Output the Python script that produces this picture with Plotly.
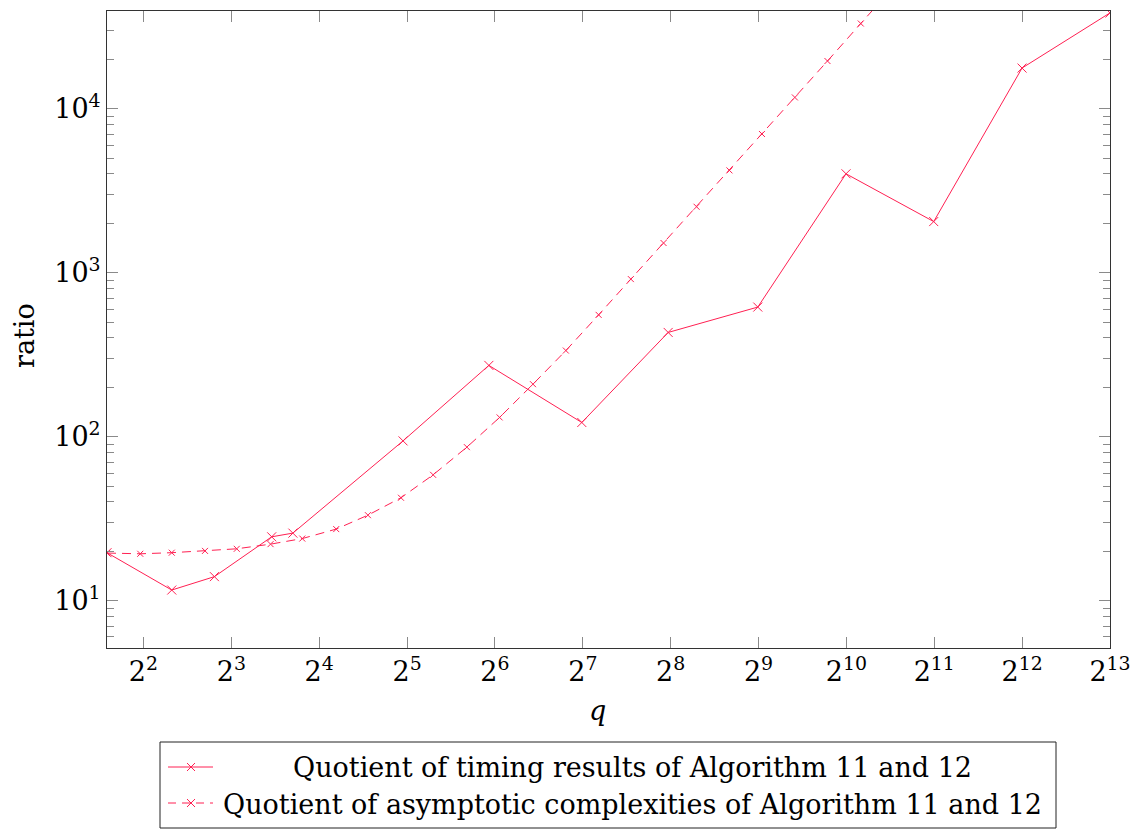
import numpy as np
import plotly.graph_objects as go

# Measured timing quotients (Algorithm 11 / Algorithm 12)
q_timing = [3, 5, 7, 11, 13, 31, 61, 127, 251, 509, 1021, 2039, 4093, 8191]
ratio_timing = [19.6, 11.6, 14.0, 24.5, 25.8, 94.2, 272, 122, 432, 617, 4010, 2050, 17700, 38400]

# Quotient of asymptotic complexities, sampled along q
q_asym = [3.0, 3.90, 5.00, 6.50, 8.35, 10.9, 14.0, 18.3, 23.5, 30.5, 39.3, 51.3,
          66.4, 86.4, 112, 145, 187, 242, 314, 407, 526, 682, 882, 1147, 1486]
ratio_asym = [19.5, 19.3, 19.6, 20.1, 20.7, 22.1, 23.9, 27.3, 33.2, 42.4, 58.5, 86.3,
              131, 209, 335, 553, 914, 1517, 2524, 4206, 7015, 11720, 19540, 33100, 55500]

x_tick_vals = [2 ** k for k in range(2, 14)]
x_tick_text = [f"2<sup>{k}</sup>" for k in range(2, 14)]
y_tick_vals = [10, 100, 1000, 10000]
y_tick_text = [f"10<sup>{k}</sup>" for k in range(1, 5)]

legend_labels = ["Quotient of timing results of Algorithm 11 and 12",
                 "Quotient of asymptotic complexities of Algorithm 11 and 12"]

COLOR = "rgb(255,32,82)"
FONT = "DejaVu Serif"
FS = 27

W, H = 1136, 829
ML, MR, MT, MB = 107, 26, 11, 181
PW, PH = W - ML - MR, H - MT - MB


def px(x):
    return (x - ML) / PW


def py(y):
    return (H - MB - y) / PH


fig = go.Figure()
fig.add_trace(go.Scatter(
    x=q_timing, y=ratio_timing, mode="lines+markers",
    line=dict(color=COLOR, width=1),
    marker=dict(symbol="x-thin", size=9, line=dict(color=COLOR, width=1)),
    showlegend=False,
))
fig.add_trace(go.Scatter(
    x=q_asym, y=ratio_asym, mode="lines+markers",
    line=dict(color=COLOR, width=1, dash="9px,6px"),
    marker=dict(symbol="x-thin", size=6, line=dict(color=COLOR, width=1)),
    showlegend=False,
))

minor_y = [m * 10 ** e for e in range(0, 5) for m in range(2, 10)]

fig.update_xaxes(
    type="log", range=[np.log10(3), np.log10(8192)],
    tickvals=x_tick_vals, ticktext=x_tick_text,
    ticks="inside", ticklen=11, tickcolor="#8a8a8a", tickwidth=1,
    showline=True, linecolor="#333", linewidth=1, mirror="allticks",
    showgrid=False, zeroline=False, automargin=False,
    tickfont=dict(family=FONT, size=FS, color="black"),
)
fig.update_yaxes(
    type="log", range=[np.log10(5.14), np.log10(39450)],
    tickvals=y_tick_vals, ticktext=y_tick_text,
    ticks="inside", ticklen=11, tickcolor="#8a8a8a", tickwidth=1,
    minor=dict(tickmode="array", tickvals=minor_y, ticks="inside", ticklen=7,
               tickcolor="#8a8a8a", tickwidth=1, showgrid=False),
    showline=True, linecolor="#333", linewidth=1, mirror="allticks",
    showgrid=False, zeroline=False, automargin=False,
    tickfont=dict(family=FONT, size=FS, color="black"),
)

shapes = []
annotations = []

# axis titles
annotations.append(dict(text="<i>q</i>", x=px(597), y=py(710), xref="paper", yref="paper",
                        xanchor="center", yanchor="middle", showarrow=False,
                        font=dict(family=FONT, size=FS, color="black")))
annotations.append(dict(text="ratio", x=px(24), y=py(336), xref="paper", yref="paper",
                        xanchor="center", yanchor="middle", textangle=-90, showarrow=False,
                        font=dict(family=FONT, size=FS, color="black")))

# legend box
shapes.append(dict(type="rect", xref="paper", yref="paper",
                   x0=px(160), x1=px(1056), y0=py(742), y1=py(828),
                   line=dict(color="#222", width=1), fillcolor="white"))
row_y = [767, 803]
dashes = ["solid", "8px,6px"]
for yy, dsh, lab in zip(row_y, dashes, legend_labels):
    shapes.append(dict(type="line", xref="paper", yref="paper",
                       x0=px(168), x1=px(213), y0=py(yy), y1=py(yy),
                       line=dict(color=COLOR, width=1, dash=dsh)))
    for sgn in (1, -1):
        shapes.append(dict(type="line", xref="paper", yref="paper",
                           xsizemode="pixel", ysizemode="pixel",
                           xanchor=px(191), yanchor=py(yy),
                           x0=-4, x1=4, y0=-4 * sgn, y1=4 * sgn,
                           line=dict(color=COLOR, width=1)))
    annotations.append(dict(text=lab, x=px(632), y=py(yy + 1), xref="paper", yref="paper",
                            xanchor="center", yanchor="middle", showarrow=False,
                            font=dict(family=FONT, size=FS, color="black")))

fig.update_layout(
    width=W, height=H,
    margin=dict(l=ML, r=MR, t=MT, b=MB, pad=0, autoexpand=False),
    paper_bgcolor="white", plot_bgcolor="white",
    shapes=shapes, annotations=annotations,
    showlegend=False,
)

fig.write_html("out.html")
